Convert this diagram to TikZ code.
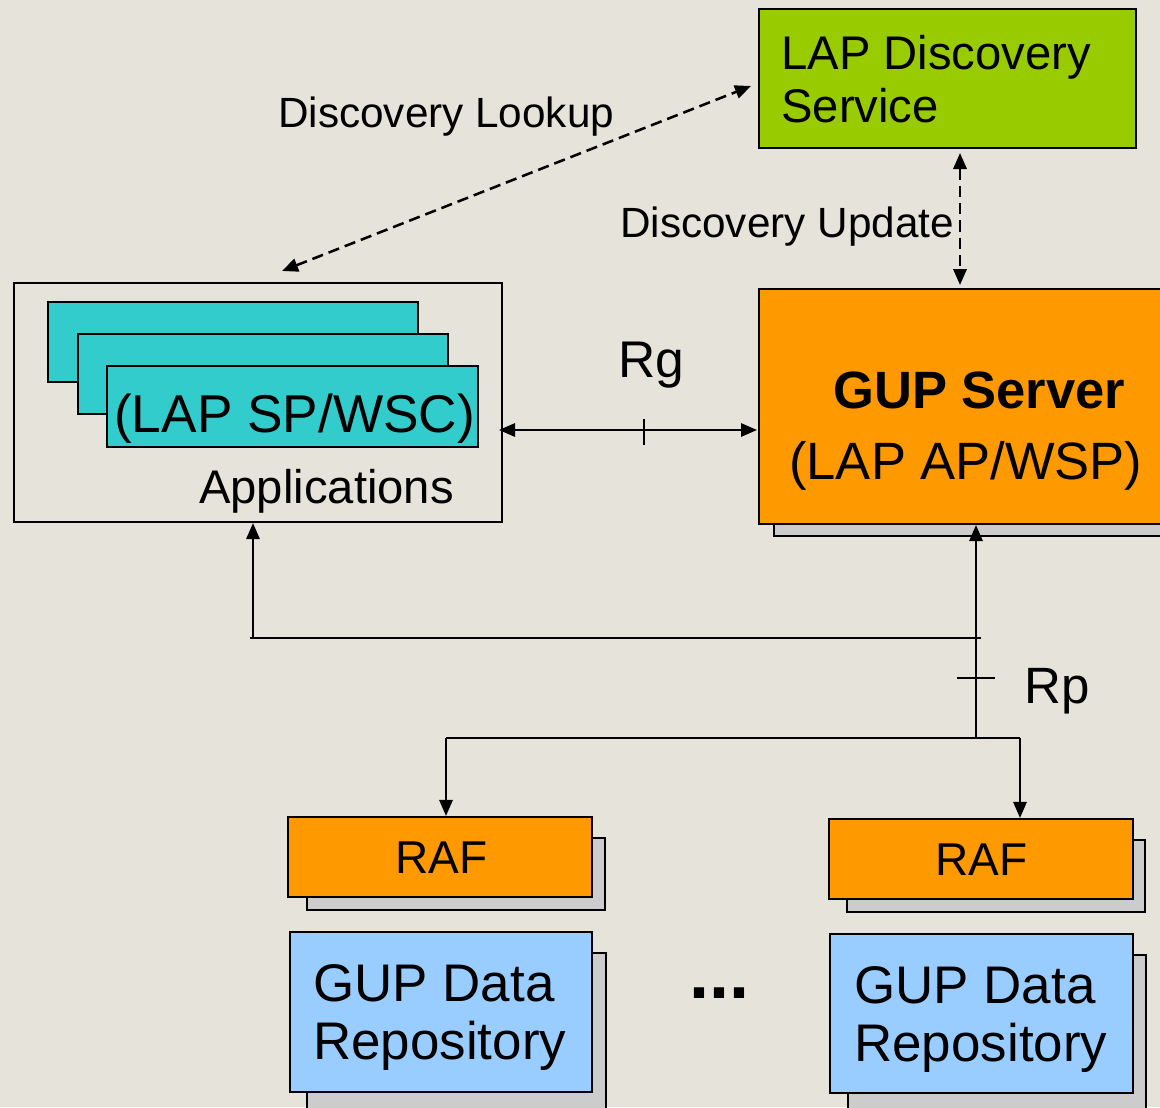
\documentclass[tikz,border=0pt]{standalone}
\usepackage{fontspec}
\setmainfont{Liberation Sans}
\usetikzlibrary{arrows.meta,fit}
\definecolor{bg}{RGB}{230,228,218}
\definecolor{greenbox}{RGB}{153,204,0}
\definecolor{cyanbox}{RGB}{51,204,204}
\definecolor{orangebox}{RGB}{255,153,0}
\definecolor{bluebox}{RGB}{153,204,255}
\definecolor{shadowgray}{RGB}{204,204,204}
\begin{document}
\begin{tikzpicture}[x=0.75pt,y=-0.75pt,
  box/.style={draw=black, line width=1.6pt, inner sep=0pt},
  shadowbox/.style={box, fill=shadowgray},
  wire/.style={line width=1.5pt},
  conn/.style={wire, -{Triangle[length=12pt,width=10pt]}},
  biconn/.style={wire, {Triangle[length=12pt,width=10pt]}-{Triangle[length=12pt,width=10pt]}},
  dconn/.style={biconn, line width=1.9pt, dash pattern=on 8.5pt off 4.5pt},
  txt/.style={inner sep=0pt, anchor=base west},
  mtxt/.style={inner sep=0pt, anchor=north west, align=left}]
\path[clip] (0,0) rectangle (1160,1107);
\fill[bg] (0,0) rectangle (1160,1107);

% LAP Discovery Service
\node[box, fill=greenbox, fit={(759,9)(1136,148)}] (disc) {};
\node[mtxt, font=\fontsize{35.4}{39.75}\selectfont] (disctxt) at (781,35) {LAP Discovery\\Service};

% Applications
\node[box, fit={(14,283)(502,522)}] (apps) {};
\node[box, fill=cyanbox, fit={(48,302)(418,382)}] (app1) {};
\node[box, fill=cyanbox, fit={(78,334)(448,414)}] (app2) {};
\node[box, fill=cyanbox, fit={(107,366)(478,447)}] (app3) {};
\node[txt, font=\fontsize{39.9}{45}\selectfont] (apptxt) at (114,432) {(LAP SP/WSC)};
\node[txt, font=\fontsize{35.4}{40}\selectfont] (appslbl) at (199,503) {Applications};

% GUP Server
\node[shadowbox, fit={(774,301)(1185,536)}] (gupsh) {};
\node[box, fill=orangebox, fit={(759,289)(1180,524)}] (gup) {};
\node[txt, font=\bfseries\fontsize{39.4}{45}\selectfont] (guptxt) at (833,408) {GUP Server};
\node[txt, font=\fontsize{39.4}{45}\selectfont] (gupsub) at (789,479) {(LAP AP/WSP)};

% RAFs
\node[shadowbox, fit={(307,838)(605,910)}] (raf1sh) {};
\node[box, fill=orangebox, fit={(288,817)(592,897)}] (raf1) {};
\node[txt, font=\fontsize{34.5}{40}\selectfont] (raf1txt) at (395,873) {RAF};
\node[shadowbox, fit={(847,840)(1145,912)}] (raf2sh) {};
\node[box, fill=orangebox, fit={(829,819)(1133,899)}] (raf2) {};
\node[txt, font=\fontsize{34.5}{40}\selectfont] (raf2txt) at (935,875) {RAF};

% GUP Data Repositories
\node[shadowbox, fit={(307,953)(606,1130)}] (rep1sh) {};
\node[box, fill=bluebox, fit={(290,932)(592,1092)}] (rep1) {};
\node[mtxt, font=\fontsize{39.7}{43.5}\selectfont] (rep1txt) at (313,964) {GUP Data\\Repository};
\node[shadowbox, fit={(848,955)(1146,1130)}] (rep2sh) {};
\node[box, fill=bluebox, fit={(830,934)(1133,1093)}] (rep2) {};
\node[mtxt, font=\fontsize{39.7}{43.5}\selectfont] (rep2txt) at (854,966) {GUP Data\\Repository};
\node[txt, font=\bfseries\fontsize{54}{60}\selectfont] (dots) at (689,998) {...};

% Discovery arrows
\coordinate (lookA) at (282,271);
\coordinate (lookB) at (751,86);
\draw[dconn] (lookA) -- (lookB);
\node[txt, font=\fontsize{31.7}{36}\selectfont] (looklbl) at (278,127) {Discovery Lookup};
\coordinate (updA) at (960,153);
\coordinate (updB) at (960,285);
\draw[dconn] (updA) -- (updB);
\node[txt, font=\fontsize{31.7}{36}\selectfont] (updlbl) at (620,237) {Discovery Update};

% Rg
\coordinate (rgL) at (499,430);
\coordinate (rgR) at (757,430);
\draw[biconn] (rgL) -- (rgR);
\draw[wire] (644,419) -- (644,445);
\node[txt, font=\fontsize{38.7}{44}\selectfont] (rglbl) at (618,377) {Rg};

% Rp and distribution
\coordinate (appsj) at (253,638);
\coordinate (hL) at (250,638);
\coordinate (hR) at (981,638);
\draw[wire] (hL) -- (hR);
\draw[conn] (appsj) -- (appsj |- apps.south);
\coordinate (rpj) at (976,738);
\draw[conn] (rpj) -- (rpj |- gup.south);
\draw[wire] (957,678) -- (995,678);
\node[txt, font=\fontsize{38.3}{44}\selectfont] (rplbl) at (1024,703) {Rp};
\coordinate (dL) at (446,738);
\coordinate (dR) at (1020,738);
\draw[wire] (dL) -- (dR);
\draw[conn] (dL) -- (dL |- raf1.north);
\draw[conn] (dR) -- (dR |- raf2.north);
\end{tikzpicture}
\end{document}
